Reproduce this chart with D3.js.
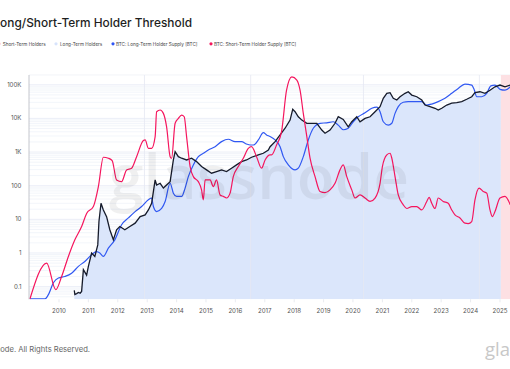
<!DOCTYPE html>
<html><head><meta charset="utf-8">
<script src="https://cdn.jsdelivr.net/npm/d3@7"></script>
<style>body{margin:0;background:#fff;}svg{display:block;font-family:Inter,"Noto Sans",sans-serif;}</style>
</head><body>
<svg id="c" width="510" height="369"></svg>
<script>
const legendLabels = ["Short-Term Holders","Long-Term Holders","BTC: Long-Term Holder Supply [BTC]","BTC: Short-Term Holder Supply [BTC]"];
const yTicks = [0.1,1,10,100,1000,10000,100000];
const yTickLabels = ["0.1","1","10","100","1K","10K","100K"];
const xTickYears = [2010,2011,2012,2013,2014,2015,2016,2017,2018,2019,2020,2021,2022,2023,2024,2025];
const halvings = ["2012-11-28","2016-07-09","2020-05-11","2024-04-20"];

// STH supply line (red) — [decimal year, value]
const sthSeries = [
[2009.01,0.043],[2009.58,0.50],[2009.89,0.081],[2010.09,0.20],[2010.32,0.79],[2010.54,2.46],[2010.77,6.1],[2010.94,15],
[2011.17,24],[2011.34,94],[2011.51,700],[2011.68,655],[2011.81,555],[2011.96,148],[2012.13,132],[2012.30,295],[2012.47,331],
[2012.64,730],[2012.87,2190],[2012.93,2290],[2013.04,1290],[2013.15,1290],[2013.27,2880],[2013.32,15800],[2013.44,17800],
[2013.55,14100],[2013.66,5600],[2013.78,730],[2013.83,655],[2013.95,7160],[2014.06,10000],[2014.17,12600],[2014.26,11200],
[2014.34,2880],[2014.46,370],[2014.57,186],[2014.74,132],[2014.85,75],[2014.91,38],[2014.97,148],[2015.14,148],[2015.25,94],
[2015.36,148],[2015.48,53],[2015.59,48],[2015.70,43],[2015.82,60],[2015.93,186],[2016.10,370],[2016.27,655],[2016.44,1290],
[2016.55,1445],[2016.72,730],[2016.89,331],[2017.01,582],[2017.18,820],[2017.23,820],[2017.40,1620],[2017.57,4030],
[2017.74,69000],[2017.92,172000],[2018.09,138000],[2018.20,69000],[2018.31,14100],[2018.43,2880],[2018.54,655],[2018.71,186],
[2018.88,67],[2019.05,62],[2019.22,75],[2019.39,118],[2019.56,295],[2019.67,415],[2019.79,186],[2019.96,75],[2020.07,43],
[2020.24,53],[2020.41,43],[2020.58,34],[2020.75,43],[2020.92,118],[2021.00,370],[2021.15,820],[2021.26,920],[2021.32,655],
[2021.43,186],[2021.54,53],[2021.71,27],[2021.83,21],[2022.00,24],[2022.17,24],[2022.34,19],[2022.51,34],[2022.59,45],
[2022.68,30],[2022.79,21],[2022.90,43],[2023.07,34],[2023.24,30],[2023.36,19],[2023.47,13.5],[2023.64,11],[2023.81,7.7],
[2023.92,7.5],[2024.04,8.6],[2024.15,38],[2024.29,85],[2024.43,67],[2024.55,60],[2024.66,19],[2024.74,12],[2024.83,17],
[2025.00,43],[2025.17,48],[2025.35,27]
];
// LTH supply line (blue)
const lthSeries = [
[2009.01,0.043],[2009.52,0.043],[2009.64,0.058],[2009.81,0.13],[2009.98,0.18],[2010.20,0.20],[2010.43,0.25],[2010.66,0.40],
[2010.88,0.56],[2011.11,0.89],[2011.28,1.1],[2011.39,1.0],[2011.51,0.79],[2011.68,1.4],[2011.90,2.46],[2012.13,6.9],
[2012.36,11],[2012.59,17],[2012.81,24],[2013.04,38],[2013.15,43],[2013.21,24],[2013.32,17],[2013.49,21],[2013.61,34],
[2013.78,118],[2013.89,60],[2014.00,48],[2014.17,48],[2014.29,85],[2014.40,186],[2014.57,415],[2014.74,730],[2014.91,920],
[2015.08,1150],[2015.31,1445],[2015.53,2040],[2015.76,2400],[2015.99,2040],[2016.21,2040],[2016.38,1740],[2016.50,1620],
[2016.61,1620],[2016.78,2290],[2016.95,3770],[2017.06,3230],[2017.18,2880],[2017.35,2290],[2017.52,1445],[2017.63,730],
[2017.80,415],[2018.03,295],[2018.14,331],[2018.31,730],[2018.48,2290],[2018.65,5100],[2018.88,7160],[2019.11,7400],
[2019.33,7950],[2019.50,6300],[2019.67,4600],[2019.84,5100],[2020.01,7950],[2020.18,11200],[2020.41,14700],[2020.64,20000],
[2020.81,21500],[2020.92,15800],[2021.03,7950],[2021.20,6300],[2021.32,7160],[2021.43,14100],[2021.54,22400],[2021.71,30200],
[2021.88,31500],[2022.11,31500],[2022.34,31500],[2022.51,25000],[2022.68,26700],[2022.90,31500],[2023.13,39600],
[2023.36,55600],[2023.58,78000],[2023.81,105000],[2024.04,98000],[2024.13,69000],[2024.21,44000],[2024.38,44000],
[2024.55,55600],[2024.69,93000],[2024.83,98000],[2025.00,73000],[2025.17,69000],[2025.35,87000]
];
// BTC price (black)
const priceSeries = [
[2010.52,0.077],[2010.54,0.058],[2010.60,0.062],[2010.66,0.067],[2010.72,0.064],[2010.77,0.072],[2010.83,0.32],[2010.94,0.22],
[2011.00,0.40],[2011.11,1.0],[2011.22,0.79],[2011.32,1.74],[2011.36,8.6],[2011.43,30],[2011.51,19],[2011.62,12],[2011.73,4.9],
[2011.85,2.46],[2011.96,4.9],[2012.07,6.1],[2012.24,4.9],[2012.41,6.1],[2012.59,7.7],[2012.76,12],[2012.93,13.5],[2013.04,19],
[2013.15,30],[2013.27,148],[2013.32,105],[2013.44,118],[2013.55,85],[2013.66,105],[2013.78,132],[2013.89,582],[2013.95,1030],
[2014.06,730],[2014.17,655],[2014.34,582],[2014.51,655],[2014.68,520],[2014.85,370],[2015.02,295],[2015.19,235],[2015.36,263],
[2015.53,295],[2015.70,263],[2015.87,331],[2016.04,415],[2016.21,520],[2016.38,582],[2016.55,700],[2016.78,820],[2016.95,920],
[2017.12,1150],[2017.18,1445],[2017.35,2040],[2017.52,3230],[2017.69,5100],[2017.86,8900],[2017.95,18600],[2018.03,15800],
[2018.14,11200],[2018.26,8900],[2018.43,7160],[2018.60,7160],[2018.77,7160],[2018.94,4500],[2019.05,3630],[2019.22,4500],
[2019.39,7160],[2019.50,11200],[2019.67,9300],[2019.84,5600],[2019.96,7950],[2020.13,11200],[2020.24,7950],[2020.41,10000],
[2020.58,11200],[2020.75,15800],[2020.92,22400],[2021.03,39600],[2021.15,55600],[2021.26,58000],[2021.37,39600],[2021.49,35100],
[2021.60,44000],[2021.77,55600],[2021.88,62000],[2022.00,49400],[2022.17,44000],[2022.34,35100],[2022.45,25000],[2022.62,22400],
[2022.79,20000],[2022.90,17800],[2023.02,20000],[2023.19,25000],[2023.36,28300],[2023.53,29500],[2023.70,31500],[2023.87,37000],
[2024.04,44000],[2024.15,58000],[2024.32,62000],[2024.49,55600],[2024.66,69000],[2024.83,87000],[2025.00,98000],[2025.17,87000],
[2025.35,98000]
];

const svg = d3.select("#c");
const W=510,H=369;
const m={l:29,r:510,t:75,b:299.3};
const toDate = y => { const yr=Math.floor(y); const s=Date.UTC(yr,0,1), e=Date.UTC(yr+1,0,1); return new Date(s+(y-yr)*(e-s)); };
const x = d3.scaleUtc().domain([new Date(Date.UTC(2010,0,1)),new Date(Date.UTC(2025,0,1))]).range([59,500]);
const y = d3.scaleLog().domain([0.042,195000]).range([m.b,m.t]);

// font-size fitting helper: size so that `sample` measures `target` px
function fitSize(sample, target, family, weight){
  const t=svg.append("text").attr("font-size",10).attr("x",-999).attr("y",-999).text(sample);
  if(family) t.attr("font-family",family);
  if(weight) t.attr("font-weight",weight);
  const w=t.node().getComputedTextLength(); t.remove();
  return 10*target/w;
}

svg.append("defs").append("clipPath").attr("id","clip").append("rect")
  .attr("x",m.l).attr("y",m.t).attr("width",m.r-m.l).attr("height",m.b-m.t);

// Title (left part runs off the page as in the reference)
const titleFs=fitSize("ong/Short-Term Holder Threshold",192,null,500);
svg.append("text").attr("x",192).attr("y",27).attr("text-anchor","end").attr("font-weight",500)
  .attr("font-size",titleFs).attr("fill","#1e1e1e").text("Long/Short-Term Holder Threshold");

// Legend
const legendColors=["#f9b9c6","#d7e3fb","#2f55f5","#f5165e"];
const legendX=[-1,56,113,211];
const legendTextX=[2.7,60,116,214];
const legendEnd=[45.7,101.7,198.7,297.7];
const legFs=d3.mean(legendLabels.map((t,i)=>fitSize(t,legendEnd[i]-legendTextX[i])));
legendLabels.forEach((t,i)=>{
  svg.append("circle").attr("cx",legendX[i]).attr("cy",43.8).attr("r",1.6).attr("fill",legendColors[i]);
  svg.append("text").attr("x",legendTextX[i]).attr("y",45.9).attr("font-size",legFs).attr("fill","#444").text(t);
});

const g=svg.append("g");
const gridVals=[];
for(let k=-2;k<=5;k++){for(let j=1;j<=9;j++){const v=j*Math.pow(10,k); if(v>=0.042&&v<=195000) gridVals.push(v);}}
g.selectAll(".hg").data(gridVals).enter().append("line")
  .attr("x1",m.l).attr("x2",m.r).attr("y1",d=>y(d)).attr("y2",d=>y(d))
  .attr("stroke",d=>yTicks.includes(d)?"#e2e7f3":"#edf0f8").attr("stroke-width",0.7);
g.append("line").attr("x1",m.l).attr("x2",m.r).attr("y1",m.t).attr("y2",m.t).attr("stroke","#eceff5").attr("stroke-width",0.7);

const plot=g.append("g").attr("clip-path","url(#clip)");
const sw = toDate(2025.03);
const priceD = priceSeries.map(d=>({date:toDate(d[0]),v:d[1]}));
const area=d3.area().x(d=>x(d.date)).y0(m.b).y1(d=>y(d.v));
plot.append("clipPath").attr("id","cb").append("rect").attr("x",0).attr("y",0).attr("width",x(sw)).attr("height",H);
plot.append("clipPath").attr("id","cp").append("rect").attr("x",x(sw)).attr("y",0).attr("width",W).attr("height",H);
plot.append("path").datum(priceD).attr("d",area).attr("fill","#dbe6fb").attr("clip-path","url(#cb)");
plot.append("rect").attr("x",x(sw)).attr("y",m.t).attr("width",W-x(sw)).attr("height",m.b-m.t).attr("fill","#fde0e3");

plot.selectAll(".vh").data(halvings).enter().append("line")
  .attr("x1",d=>x(new Date(d))).attr("x2",d=>x(new Date(d))).attr("y1",m.t).attr("y2",m.b)
  .attr("stroke","#e6e9f2").attr("stroke-width",0.8);

// watermark
const wmFs=fitSize("glassnode",300,"'Open Sans',sans-serif",600);
svg.append("text").attr("x",259).attr("y",199).attr("text-anchor","middle")
  .attr("font-family","'Open Sans',sans-serif").attr("font-size",wmFs).attr("font-weight",600)
  .attr("fill","#000").attr("opacity",0.055).text("glassnode");

const line=d3.line().x(d=>x(toDate(d[0]))).y(d=>y(d[1])).curve(d3.curveMonotoneX);
plot.append("path").datum(lthSeries).attr("d",line).attr("fill","none").attr("stroke","#3058f2").attr("stroke-width",1.2);
plot.append("path").datum(priceSeries).attr("d",d3.line().x(d=>x(toDate(d[0]))).y(d=>y(d[1]))).attr("fill","none").attr("stroke","#161b2b").attr("stroke-width",1.3);
plot.append("path").datum(sthSeries).attr("d",line).attr("fill","none").attr("stroke","#f5165e").attr("stroke-width",1.2);

// axes
svg.append("line").attr("x1",m.l).attr("x2",m.l).attr("y1",m.t).attr("y2",m.b).attr("stroke","#b5b8c0").attr("stroke-width",0.8);
const tickFs=fitSize("100K",14.4);
svg.selectAll(".yl").data(yTicks).enter().append("text")
  .attr("x",21.5).attr("y",d=>y(d)+2).attr("text-anchor","end").attr("font-size",tickFs).attr("fill","#555")
  .text((d,i)=>yTickLabels[i]);
const xt=xTickYears.map(yr=>new Date(Date.UTC(yr,0,1)));
svg.selectAll(".xtk").data(xt).enter().append("line")
  .attr("x1",d=>x(d)).attr("x2",d=>x(d)).attr("y1",m.b).attr("y2",m.b+3).attr("stroke","#e0e3ea").attr("stroke-width",0.7);
svg.selectAll(".xl").data(xt).enter().append("text")
  .attr("x",d=>x(d)).attr("y",313).attr("text-anchor","middle").attr("font-size",tickFs).attr("fill","#555")
  .text(d=>d.getUTCFullYear());

// footer (left part runs off the page as in the reference)
const footFs=fitSize("ode. All Rights Reserved.",90);
svg.append("text").attr("x",90).attr("y",352).attr("text-anchor","end").attr("font-size",footFs).attr("fill","#666")
  .text("© 2025 Glassnode. All Rights Reserved.");
const logoFs=fitSize("gla",25,"'Open Sans',sans-serif");
svg.append("text").attr("x",485).attr("y",356).attr("font-family","'Open Sans',sans-serif").attr("font-size",logoFs).attr("fill","#c8c8c8")
  .text("glassnode");
</script>
</body></html>
